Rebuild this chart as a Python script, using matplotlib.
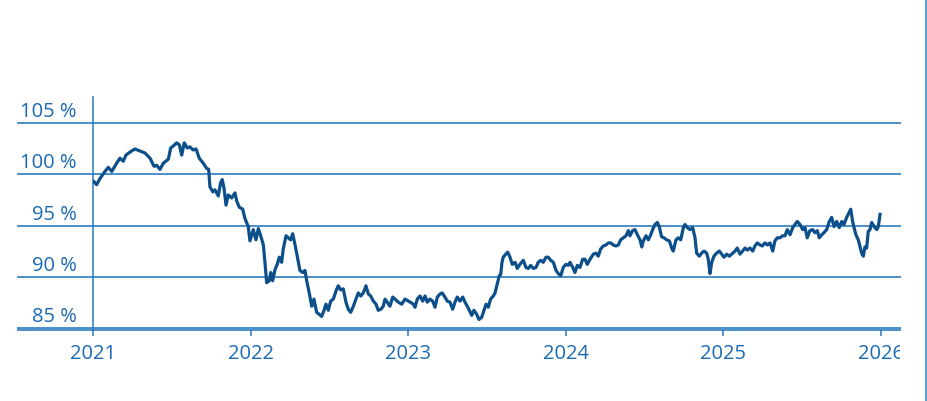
import matplotlib
matplotlib.use("Agg")
import matplotlib.pyplot as plt
from matplotlib.transforms import Bbox, TransformedBbox

# years elapsed since 2021-01-01 and index level in %
t = [0.006, 0.023, 0.044, 0.076, 0.097, 0.119, 0.150, 0.171, 0.192, 0.209,
     0.235, 0.266, 0.298, 0.330, 0.362, 0.387, 0.404, 0.425, 0.446, 0.478,
     0.493, 0.510, 0.531, 0.548, 0.563, 0.579, 0.598, 0.615, 0.636, 0.654,
     0.674, 0.700, 0.721, 0.734, 0.742, 0.760, 0.774, 0.795, 0.810, 0.820,
     0.831, 0.844, 0.858, 0.880, 0.901, 0.912, 0.928, 0.950, 0.964, 0.985,
     0.996, 1.017, 1.034, 1.049, 1.064, 1.081, 1.091, 1.102, 1.119, 1.128,
     1.140, 1.155, 1.169, 1.182, 1.197, 1.207, 1.225, 1.239, 1.254, 1.267,
     1.282, 1.296, 1.313, 1.331, 1.345, 1.356, 1.372, 1.388, 1.402, 1.419,
     1.436, 1.451, 1.466, 1.478, 1.493, 1.508, 1.525, 1.542, 1.556, 1.572,
     1.588, 1.605, 1.620, 1.635, 1.652, 1.669, 1.683, 1.699, 1.715, 1.732,
     1.747, 1.762, 1.779, 1.796, 1.810, 1.826, 1.842, 1.853, 1.867, 1.884,
     1.902, 1.916, 1.937, 1.959, 1.980, 2.001,
     2.033, 2.043, 2.058, 2.075, 2.092, 2.107, 2.121, 2.138, 2.155, 2.170,
     2.185, 2.202, 2.216, 2.233, 2.248, 2.265, 2.282, 2.297, 2.311, 2.329,
     2.346, 2.360, 2.375, 2.388, 2.403, 2.417, 2.435, 2.449, 2.466, 2.481,
     2.494, 2.508, 2.523, 2.540, 2.551, 2.565, 2.578, 2.587, 2.595, 2.603,
     2.619, 2.631, 2.646, 2.660, 2.678, 2.692, 2.709, 2.730, 2.747, 2.762,
     2.777, 2.794, 2.811, 2.825, 2.841, 2.857, 2.874, 2.889, 2.904, 2.921,
     2.938, 2.952, 2.968, 2.984, 3.001, 3.016,
     3.027, 3.044, 3.058, 3.073, 3.090, 3.107, 3.122, 3.136, 3.154, 3.175,
     3.192, 3.206, 3.221, 3.238, 3.255, 3.270, 3.285, 3.301, 3.318, 3.333,
     3.348, 3.365, 3.382, 3.397, 3.407, 3.424, 3.439, 3.454, 3.471, 3.482,
     3.492, 3.509, 3.524, 3.539, 3.551, 3.566, 3.581, 3.593, 3.608, 3.623,
     3.640, 3.657, 3.672, 3.682, 3.699, 3.714, 3.729, 3.746, 3.756, 3.771,
     3.788, 3.805, 3.820, 3.830, 3.847, 3.862, 3.877, 3.894, 3.904, 3.915,
     3.926, 3.940, 3.957, 3.974, 3.989, 4.004, 4.021, 4.038,
     4.059, 4.074, 4.088, 4.105, 4.122, 4.137, 4.152, 4.169, 4.186, 4.200,
     4.215, 4.232, 4.247, 4.264, 4.279, 4.296, 4.313, 4.327, 4.342, 4.359,
     4.376, 4.391, 4.405, 4.423, 4.440, 4.454, 4.469, 4.486, 4.503, 4.518,
     4.532, 4.549, 4.566, 4.581, 4.596, 4.608, 4.624, 4.638, 4.655, 4.672,
     4.687, 4.702, 4.719, 4.735, 4.751, 4.765, 4.782, 4.792, 4.808, 4.820,
     4.829, 4.841, 4.856, 4.867, 4.877, 4.888, 4.898, 4.909, 4.919, 4.930,
     4.941, 4.956, 4.973, 4.983, 4.994]

level = [99.3, 99.0, 99.6, 100.3, 100.7, 100.3, 101.1, 101.6, 101.3, 101.9,
         102.2, 102.5, 102.3, 102.1, 101.6, 100.8, 100.9, 100.5, 101.1, 101.5,
         102.6, 102.8, 103.1, 102.9, 101.9, 103.1, 102.6, 102.7, 102.4, 102.5,
         101.6, 101.1, 100.6, 100.5, 98.8, 98.3, 98.5, 97.9, 99.2, 99.5,
         98.7, 97.0, 98.0, 97.7, 98.2, 97.4, 96.8, 96.6, 95.7, 94.9,
         93.5, 94.6, 93.6, 94.7, 94.0, 93.1, 91.4, 89.4, 89.6, 90.4,
         89.6, 90.7, 91.2, 91.9, 91.4, 92.7, 94.0, 93.8, 93.6, 94.2,
         93.1, 92.0, 90.6, 90.4, 90.6, 89.6, 88.4, 87.1, 87.8, 86.5,
         86.3, 86.1, 86.7, 87.3, 86.7, 87.6, 87.8, 88.6, 89.1, 88.7,
         88.8, 87.5, 86.8, 86.5, 87.1, 87.8, 88.4, 88.1, 88.4, 89.1,
         88.3, 88.1, 87.6, 87.3, 86.7, 86.8, 87.1, 87.8, 87.5, 87.1,
         88.0, 87.8, 87.5, 87.3, 87.8, 87.6,
         87.3, 87.0, 87.8, 88.1, 87.6, 88.1, 87.5, 87.8, 87.6, 87.0,
         88.0, 88.3, 88.4, 88.0, 87.6, 87.5, 86.8, 87.5, 88.0, 87.6,
         88.0, 87.5, 87.1, 86.7, 86.2, 86.7, 86.3, 85.8, 86.0, 86.7,
         87.3, 87.0, 87.8, 88.1, 88.4, 89.3, 90.1, 90.2, 91.4, 91.9,
         92.2, 92.4, 91.9, 91.2, 91.4, 90.8, 91.2, 91.6, 90.9, 90.8,
         91.1, 90.8, 90.9, 91.4, 91.6, 91.4, 91.9, 91.9, 91.6, 91.4,
         90.6, 90.3, 90.1, 90.9, 91.2, 91.1,
         91.4, 90.9, 90.4, 91.1, 90.9, 91.7, 91.7, 91.2, 91.7, 92.2,
         92.3, 92.0, 92.7, 93.0, 93.1, 93.3, 93.3, 93.1, 93.0, 93.1,
         93.6, 93.8, 94.0, 94.5, 94.0, 94.5, 94.6, 94.1, 93.6, 92.9,
         93.5, 94.0, 93.6, 94.1, 94.6, 95.1, 95.3, 94.9, 93.9, 93.8,
         93.6, 93.5, 92.8, 92.5, 93.6, 93.8, 93.6, 94.8, 95.1, 94.8,
         94.6, 94.8, 93.8, 92.3, 92.0, 92.3, 92.5, 92.3, 91.7, 90.3,
         91.4, 92.0, 92.3, 92.5, 92.2, 91.9, 92.2, 92.0,
         92.3, 92.5, 92.8, 92.2, 92.5, 92.8, 92.6, 92.8, 92.5, 93.0,
         93.3, 93.1, 93.0, 93.3, 93.1, 93.3, 92.5, 93.5, 93.8, 93.8,
         94.0, 94.0, 94.6, 94.1, 94.8, 95.1, 95.4, 95.1, 94.6, 94.8,
         93.8, 94.5, 94.6, 94.3, 94.5, 93.8, 94.1, 94.3, 94.6, 95.4,
         95.8, 94.9, 95.4, 94.8, 95.4, 95.1, 95.8, 96.1, 96.6, 95.4,
         94.8, 94.1, 93.6, 92.9, 92.3, 92.0, 92.9, 92.8, 94.4, 94.6,
         95.3, 94.9, 94.6, 94.9, 96.1]

start_year = 2021
x_ticks = [2021, 2022, 2023, 2024, 2025, 2026]
x_labels = ["2021", "2022", "2023", "2024", "2025", "2026"]
y_ticks = [85, 90, 95, 100, 105]
y_labels = ["85 %", "90 %", "95 %", "100 %", "105 %"]

TEXT = "#1b6ab3"
GRID = "#4a8fca"
LINE = "#0c4f8b"

plt.rcParams["font.family"] = ["Open Sans", "DejaVu Sans"]

fig = plt.figure(figsize=(9.27, 4.01), dpi=100)
ax = fig.add_axes([93 / 927, 1 - 329.5 / 401, (900 - 93) / 927, (329.5 - 97.3) / 401])

x = [start_year + v for v in t]
ax.plot(x, level, color=LINE, lw=2.3, solid_joinstyle="round", zorder=3)

ax.set_xlim(2021, 2021 + (900 - 93) / 157.6)
ax.set_ylim(84.82, 107.56)

ext = -(93 - 18) / (900 - 93)
for yv in y_ticks:
    ax.axhline(yv, xmin=ext, xmax=1, color=GRID, lw=1.4, clip_on=False, zorder=1)
ax.axhline(84.82, xmin=ext, xmax=1, color=GRID, lw=1.4, clip_on=False, zorder=1)

for sp in ["top", "right", "bottom"]:
    ax.spines[sp].set_visible(False)
ax.spines["left"].set_color("#2a78bd")
ax.spines["left"].set_linewidth(1.1)

ax.set_yticks(y_ticks)
ax.set_yticklabels([])
ax.tick_params(axis="y", length=0)
for yv, lab in zip(y_ticks, y_labels):
    ax.annotate(lab, xy=(0, yv), xycoords=("axes fraction", "data"),
                xytext=(-16, 6), textcoords="offset pixels",
                ha="right", va="baseline", color=TEXT, fontsize=14.5,
                annotation_clip=False)

ax.set_xticks(x_ticks)
ax.set_xticklabels(x_labels)
ax.tick_params(axis="x", direction="out", length=4.5, width=1.1, color="#2a78bd",
               labelcolor=TEXT, labelsize=14.5, pad=6)

clipbox = TransformedBbox(Bbox([[0, 0], [900 / 927, 1]]), fig.transFigure)
for lab in ax.get_xticklabels():
    lab.set_clip_box(clipbox)
    lab.set_clip_on(True)

fig.add_artist(plt.Line2D([925.5 / 927, 925.5 / 927], [0, 1], color="#4a9ad4",
                          lw=1.3, transform=fig.transFigure))

fig.savefig("out.png", dpi=100)
